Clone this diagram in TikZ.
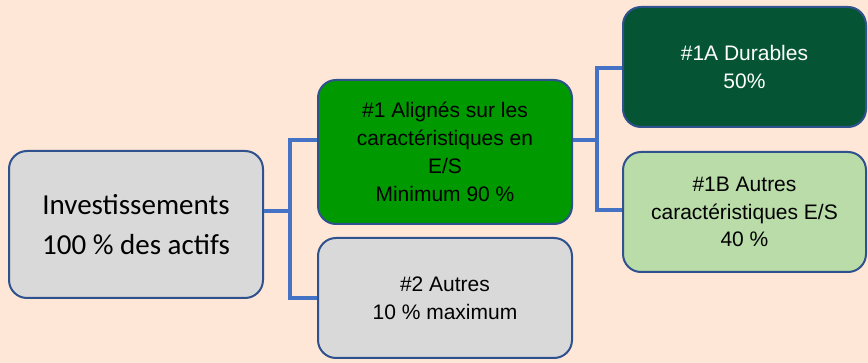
\documentclass[tikz,border=0pt]{standalone}
\usepackage{fontspec}
\setmainfont{Liberation Sans}
\newfontfamily\calibrifont{Carlito}
\definecolor{bgpeach}{HTML}{FEE7D7}
\definecolor{boxline}{HTML}{2F528F}
\definecolor{connline}{HTML}{4472C4}
\definecolor{greyfill}{HTML}{D9D9D9}
\definecolor{greenfill}{HTML}{009A00}
\definecolor{darkgreen}{HTML}{055535}
\definecolor{lightgreen}{HTML}{B9DCA9}
\begin{document}
\begin{tikzpicture}[x=1pt,y=-1pt,
  boxstyle/.style={draw=boxline, line width=2pt, rounded corners=18pt, align=center,
    inner sep=0pt, font=\fontsize{21}{27.8}\selectfont},
  conn/.style={draw=connline, line width=4pt}]
\fill[bgpeach] (0,0) rectangle (868,363);
\useasboundingbox (0,0) rectangle (868,363);
\node[boxstyle, fill=greyfill, minimum width=254pt, minimum height=147pt,
  font=\calibrifont\fontsize{29}{40}\selectfont] (inv) at (136,224.5)
  {Investissements\\100 \% des actifs};
\node[boxstyle, fill=greenfill, minimum width=254pt, minimum height=144pt] (n1) at (445,152)
  {\#1 Alignés sur les\\caractéristiques en\\E/S\\Minimum 90 \%};
\node[boxstyle, fill=greyfill, minimum width=254pt, minimum height=120pt] (n2) at (445,298)
  {\#2 Autres\\10 \% maximum};
\node[boxstyle, fill=darkgreen, text=white, minimum width=243pt, minimum height=120pt] (a1) at (744.5,67)
  {\#1A Durables\\50\%};
\node[boxstyle, fill=lightgreen, minimum width=243pt, minimum height=120pt] (b1) at (744.5,212)
  {\#1B Autres\\caractéristiques E/S\\40 \%};
\coordinate (m1) at (290,211);
\coordinate (t1) at (290,140);
\coordinate (t2) at (290,298);
\coordinate (m2) at (597,140);
\coordinate (s1) at (597,68);
\coordinate (s2) at (597,210);
\draw[conn] (m1 -| inv.east) -- (m1);
\draw[conn] (t1 -| n1.west) -- (t1) -- (t2) -- (t2 -| n2.west);
\draw[conn] (m2 -| n1.east) -- (m2);
\draw[conn] (s1 -| a1.west) -- (s1) -- (s2) -- (s2 -| b1.west);
\end{tikzpicture}
\end{document}
